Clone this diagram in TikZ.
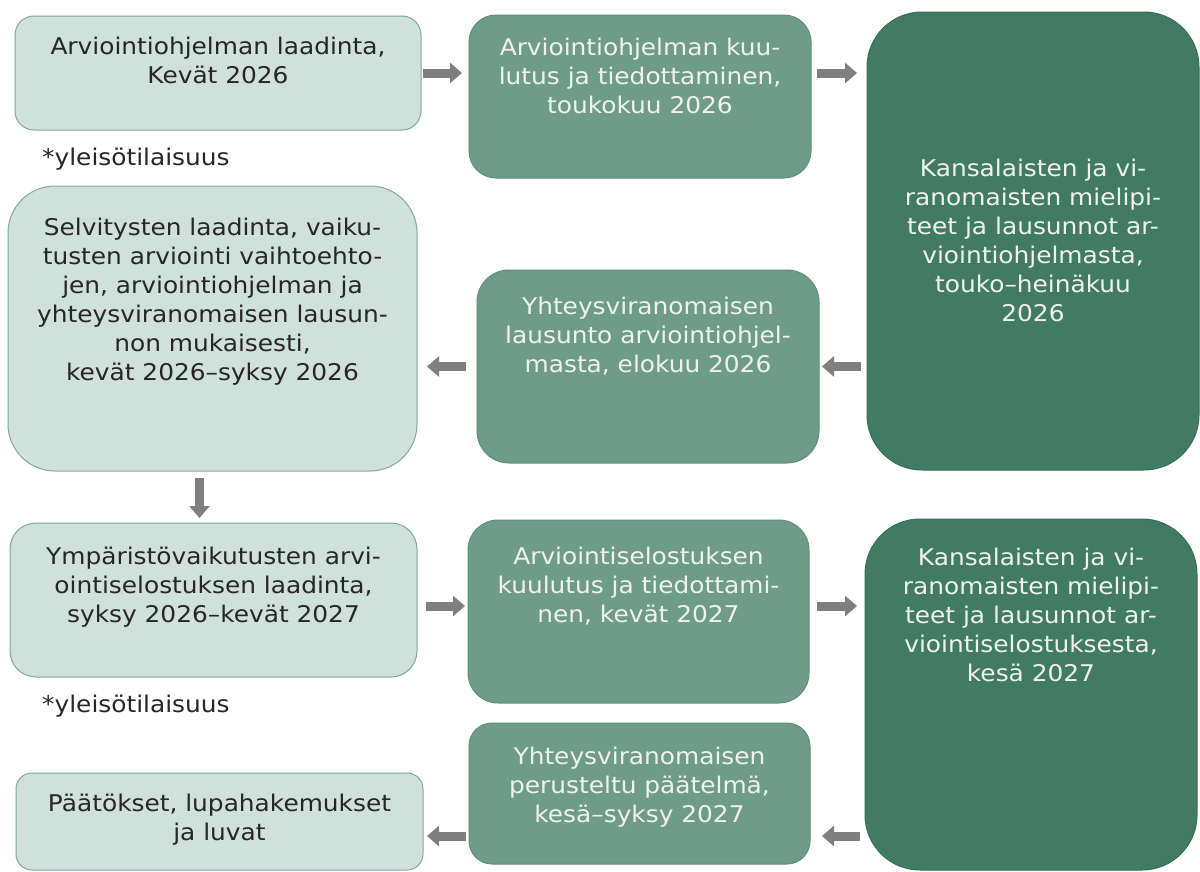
\documentclass[tikz,border=0pt]{standalone}
\usepackage{fontspec}
\setmainfont[FakeStretch=1.08]{DejaVu Sans}
\usetikzlibrary{arrows.meta}
\definecolor{lightf}{HTML}{D0E0DA}
\definecolor{lightd}{HTML}{7EAA96}
\definecolor{midf}{HTML}{6F9C89}
\definecolor{midd}{HTML}{5E8F79}
\definecolor{darkf}{HTML}{417B63}
\definecolor{darkd}{HTML}{386E57}
\definecolor{darktxt}{HTML}{262626}
\definecolor{lighttxt}{HTML}{F0F2F0}
\definecolor{arrgray}{HTML}{7F7F7F}
\newcommand\bxt[4]{\begin{minipage}[t][#2pt][t]{#1pt}\centering\vspace*{#3pt}\rule{0pt}{20pt}#4\end{minipage}}
\tikzset{
  box/.style={draw, rounded corners=#1, inner sep=0pt, outer sep=0pt, anchor=north west, line width=1pt,
    font=\fontsize{23}{29}\selectfont},
  lbox/.style={box=#1, fill=lightf, draw=lightd, text=darktxt},
  mbox/.style={box=#1, fill=midf, draw=midd, text=lighttxt},
  dbox/.style={box=#1, fill=darkf, draw=darkd, text=lighttxt},
  arr/.style={draw=arrgray, line width=9pt, -{Triangle[length=12pt,width=20pt]}, arrgray},
  note/.style={anchor=base west, inner sep=0pt, text=darktxt, font=\fontsize{23}{29}\selectfont}
}
\begin{document}
\begin{tikzpicture}[x=1pt,y=-1pt]
\useasboundingbox (0,0) rectangle (1200,871);
\node[lbox=19pt] (A) at (15,16) {\bxt{406}{114}{18}{Arviointiohjelman laadinta,\\Kevät 2026}};
\node[mbox=27pt] (B) at (469,15) {\bxt{342}{163}{20}{Arviointiohjelman kuu-\\lutus ja tiedottaminen,\\toukokuu 2026}};
\node[dbox=55pt] (C) at (867,12) {\bxt{332}{458}{144}{Kansalaisten ja vi-\\ranomaisten mielipi-\\teet ja lausunnot ar-\\viointiohjelmasta,\\touko–heinäkuu\\2026}};
\node[lbox=47pt] (D) at (8,186) {\bxt{409}{285}{29}{Selvitysten laadinta, vaiku-\\tusten arviointi vaihtoehto-\\jen, arviointiohjelman ja\\yhteysviranomaisen lausun-\\non mukaisesti,\\kevät 2026–syksy 2026}};
\node[mbox=32pt] (E) at (477,270) {\bxt{342}{193}{24}{Yhteysviranomaisen\\lausunto arviointiohjel-\\masta, elokuu 2026}};
\node[lbox=26pt] (F) at (10,523) {\bxt{407}{154}{21}{Ympäristövaikutusten arvi-\\ointiselostuksen laadinta,\\syksy 2026–kevät 2027}};
\node[mbox=30pt] (G) at (468,520) {\bxt{341}{183}{24}{Arviointiselostuksen\\kuulutus ja tiedottami-\\nen, kevät 2027}};
\node[dbox=55pt] (H) at (865,519) {\bxt{332}{351}{26}{Kansalaisten ja vi-\\ranomaisten mielipi-\\teet ja lausunnot ar-\\viointiselostuksesta,\\kesä 2027}};
\node[mbox=23pt] (I) at (469,723) {\bxt{341}{141}{21}{Yhteysviranomaisen\\perusteltu päätelmä,\\kesä–syksy 2027}};
\node[lbox=16pt] (J) at (16,773) {\bxt{407}{97}{18}{Päätökset, lupahakemukset\\ja luvat}};
\node[note] (n1) at (42,165) {*yleisötilaisuus};
\node[note] (n2) at (42,712) {*yleisötilaisuus};
\draw[arr] ([xshift=2pt]A.east) -- ([xshift=-7pt]B.west |- A.east);
\draw[arr] ([xshift=6pt]B.east |- A.east) -- ([xshift=-10pt]C.west |- A.east);
\draw[arr] ([xshift=-6pt]C.west |- E.east) -- ([xshift=3pt]E.east);
\draw[arr] ([xshift=-11pt]E.west) -- ([xshift=10pt]D.east |- E.west);
\draw[arr] ([xshift=-13pt,yshift=-7pt]D.south) -- ([xshift=-13pt,yshift=5pt]D.south |- F.north);
\draw[arr] ([xshift=9pt,yshift=-6pt]F.east) -- ([xshift=-3pt,yshift=-6pt]G.west |- F.east);
\draw[arr] ([xshift=8pt,yshift=5.5pt]G.east) -- ([xshift=-8pt,yshift=5.5pt]H.west |- G.east);
\draw[arr] ([xshift=-5pt,yshift=-42.5pt]H.west |- I.east) -- ([xshift=12pt,yshift=-42.5pt]I.east);
\draw[arr] ([xshift=-3pt,yshift=-42.5pt]I.west) -- ([xshift=4pt,yshift=-42.5pt]J.east |- I.west);
\end{tikzpicture}
\end{document}
